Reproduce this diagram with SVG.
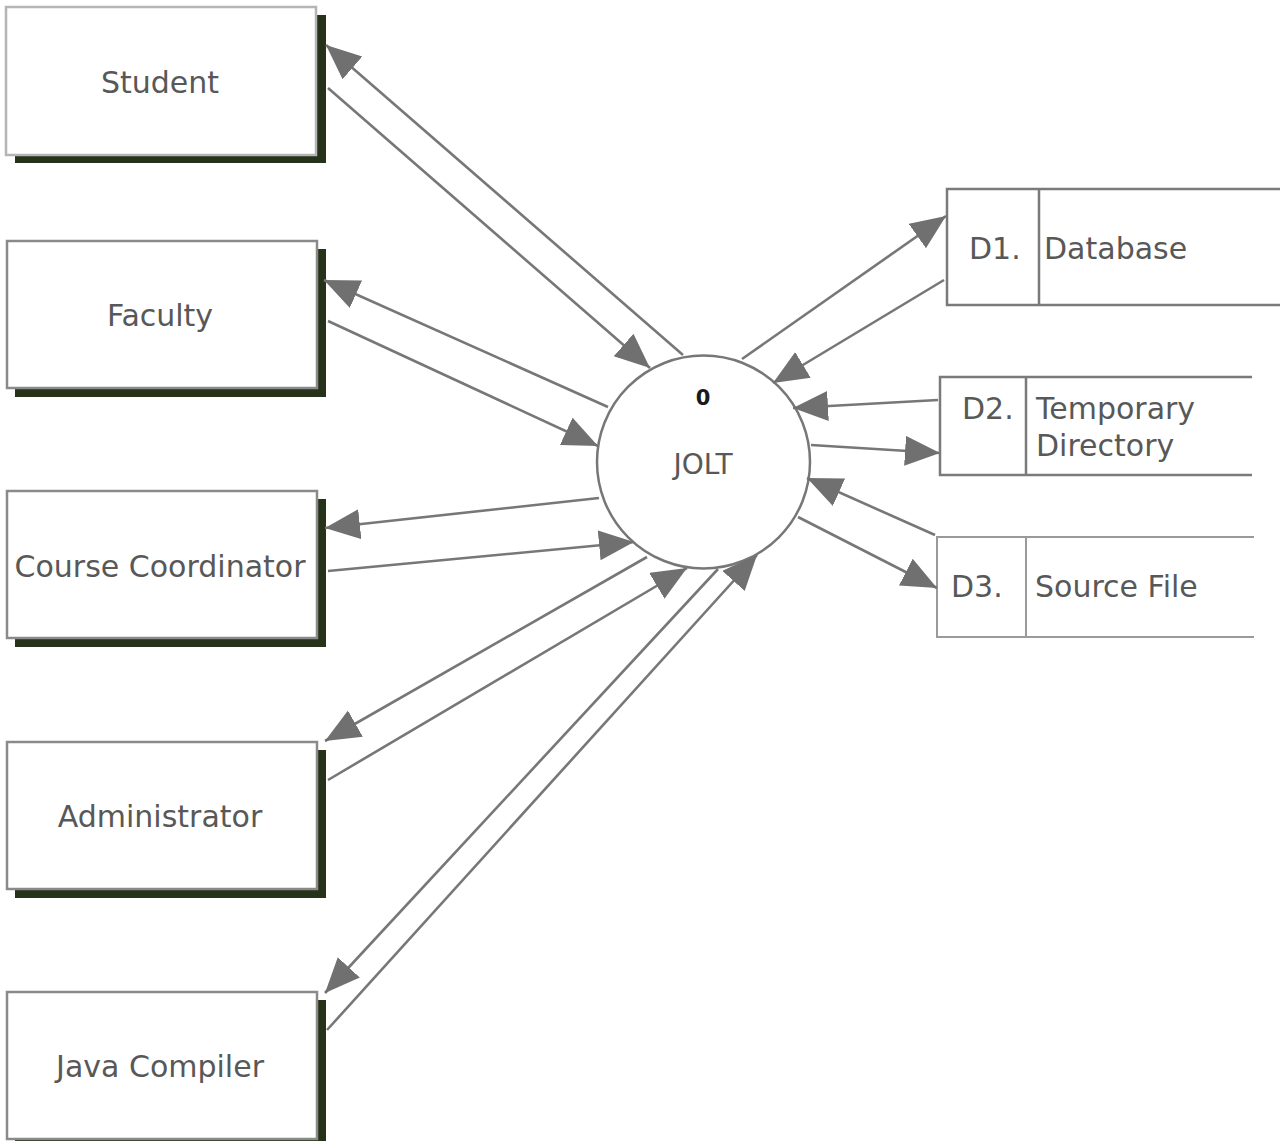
<svg xmlns="http://www.w3.org/2000/svg" width="1283" height="1141" viewBox="0 0 1283 1141">
  <style>
    .shadow { fill: #26331a; }
    .box { fill: #ffffff; stroke: #8a8a8a; stroke-width: 2.5; }
    .label { font-family: "DejaVu Sans", Verdana, sans-serif; font-size: 30px; fill: #585858; }
    .store { fill: none; stroke: #7a7a7a; stroke-width: 2.5; }
    .flow { fill: none; stroke: #777777; stroke-width: 2.6; marker-end: url(#head); }
  </style>
  <defs>
    <marker id="head" markerUnits="userSpaceOnUse" markerWidth="38" markerHeight="32" refX="35" refY="15" orient="auto">
      <path d="M0,0 L35,15 L0,30 z" fill="#707070"/>
    </marker>
  </defs>
  <rect width="1283" height="1141" fill="#ffffff"/>

  <!-- external entities -->
  <g id="student">
    <rect class="shadow" x="15" y="15" width="311" height="148"/>
    <rect class="box" x="6" y="7" width="310" height="148" style="stroke:#b5b5b5"/>
    <text class="label" x="160" y="93" text-anchor="middle">Student</text>
  </g>
  <g id="faculty">
    <rect class="shadow" x="15" y="249" width="311" height="148"/>
    <rect class="box" x="7" y="241" width="310" height="147"/>
    <text class="label" x="160" y="326" text-anchor="middle">Faculty</text>
  </g>
  <g id="course-coordinator">
    <rect class="shadow" x="15" y="499" width="311" height="148"/>
    <rect class="box" x="7" y="491" width="310" height="147"/>
    <text class="label" x="160" y="577" text-anchor="middle">Course Coordinator</text>
  </g>
  <g id="administrator">
    <rect class="shadow" x="15" y="750" width="311" height="148"/>
    <rect class="box" x="7" y="742" width="310" height="147"/>
    <text class="label" x="160" y="827" text-anchor="middle">Administrator</text>
  </g>
  <g id="java-compiler">
    <rect class="shadow" x="15" y="1000" width="311" height="148"/>
    <rect class="box" x="7" y="992" width="310" height="147"/>
    <text class="label" x="160" y="1077" text-anchor="middle">Java Compiler</text>
  </g>

  <!-- central process -->
  <g id="jolt">
    <circle cx="703.5" cy="462" r="106.5" fill="#ffffff" stroke="#777777" stroke-width="2.5"/>
    <text x="703" y="405" text-anchor="middle" style="font-family:'DejaVu Sans', Verdana, sans-serif; font-size:21px; font-weight:bold; fill:#1a1a1a">0</text>
    <text class="label" x="703" y="474" text-anchor="middle" style="font-size:28px">JOLT</text>
  </g>

  <!-- data stores -->
  <g id="d1-database">
    <path class="store" d="M1280,189 H947 V305 H1280 M1039,189 V305"/>
    <text class="label" x="969" y="259">D1.</text>
    <text class="label" x="1044" y="259">Database</text>
  </g>
  <g id="d2-temporary-directory">
    <path class="store" d="M1252,377 H940 V475 H1252 M1026,377 V475"/>
    <text class="label" x="962" y="419">D2.</text>
    <text class="label" x="1036" y="419">Temporary</text>
    <text class="label" x="1036" y="456">Directory</text>
  </g>
  <g id="d3-source-file">
    <path class="store" d="M1254,537 H937 V637 H1254 M1026,537 V637" style="stroke:#9a9a9a;stroke-width:2"/>
    <text class="label" x="951" y="597">D3.</text>
    <text class="label" x="1035" y="597">Source File</text>
  </g>

  <!-- data flows -->
  <g id="connectors">
    <line class="flow" x1="683" y1="355" x2="326" y2="45"/>
    <line class="flow" x1="328" y1="88" x2="650" y2="368"/>
    <line class="flow" x1="608" y1="407" x2="324" y2="280"/>
    <line class="flow" x1="328" y1="321" x2="598" y2="446"/>
    <line class="flow" x1="599" y1="498" x2="325" y2="528"/>
    <line class="flow" x1="328" y1="571" x2="634" y2="542"/>
    <line class="flow" x1="647" y1="557" x2="325" y2="741"/>
    <line class="flow" x1="328" y1="780" x2="687" y2="568"/>
    <line class="flow" x1="718" y1="569" x2="325" y2="993"/>
    <line class="flow" x1="327" y1="1030" x2="757" y2="555"/>
    <line class="flow" x1="742" y1="359" x2="946" y2="216"/>
    <line class="flow" x1="944" y1="280" x2="773" y2="383"/>
    <line class="flow" x1="938" y1="400" x2="793" y2="408"/>
    <line class="flow" x1="811" y1="445" x2="940" y2="453"/>
    <line class="flow" x1="935" y1="535" x2="807" y2="478"/>
    <line class="flow" x1="798" y1="517" x2="937" y2="588"/>
  </g>
</svg>
